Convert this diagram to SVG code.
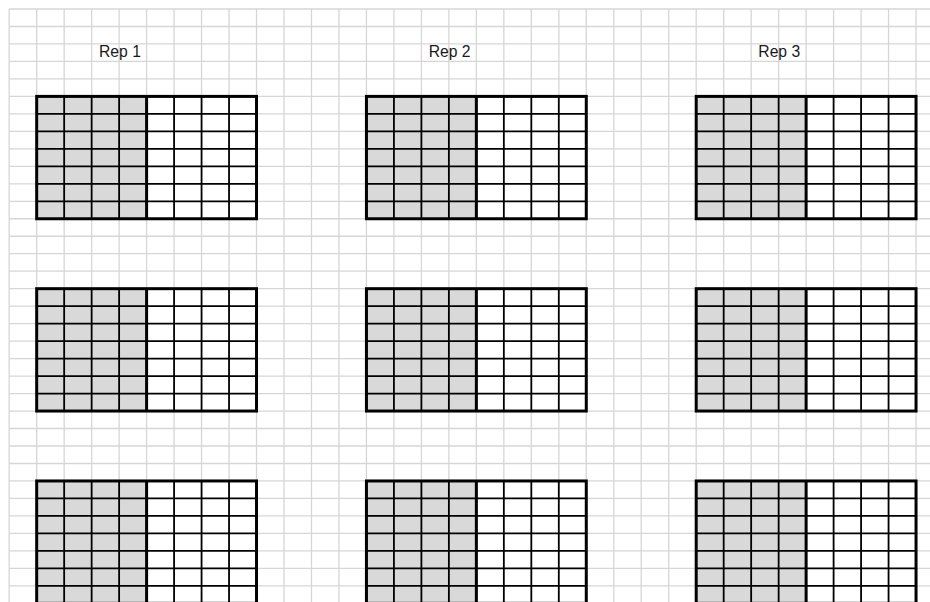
<svg xmlns="http://www.w3.org/2000/svg" xmlns:xlink="http://www.w3.org/1999/xlink" width="930" height="602" viewBox="0 0 930 602">
<style>
.grid{stroke:#d6d6d6;stroke-width:1.3;fill:none}
.inner{stroke:#000;stroke-width:1.8;fill:none}
.thick{stroke:#000;stroke-width:3;fill:none}
.lbl{font-family:"Liberation Sans",Arial,sans-serif;font-size:15.7px;fill:#1a1a1a}
</style>
<defs>
<g id="box">
<rect x="0" y="0" width="109.92" height="122.36" fill="#d9d9d9"/>
<rect x="109.92" y="0" width="109.92" height="122.36" fill="#ffffff"/>
<path class="inner" d="M27.48 0V122.36M54.96 0V122.36M82.44 0V122.36M137.4 0V122.36M164.88 0V122.36M192.36 0V122.36M0 17.48H219.84M0 34.96H219.84M0 52.44H219.84M0 69.92H219.84M0 87.4H219.84M0 104.88H219.84"/>
<rect class="thick" x="0" y="0" width="219.84" height="122.36"/>
<path class="thick" d="M109.92 0V122.36"/>
</g>
</defs>
<rect width="930" height="602" fill="#ffffff"/>
<g id="gridlines">
<path class="grid" d="M9.2 9V602M36.68 9V602M64.16 9V602M91.64 9V602M119.12 9V602M146.6 9V602M174.08 9V602M201.56 9V602M229.04 9V602M256.52 9V602M284 9V602M311.48 9V602M338.96 9V602M366.44 9V602M393.92 9V602M421.4 9V602M448.88 9V602M476.36 9V602M503.84 9V602M531.32 9V602M558.8 9V602M586.28 9V602M613.76 9V602M641.24 9V602M668.72 9V602M696.2 9V602M723.68 9V602M751.16 9V602M778.64 9V602M806.12 9V602M833.6 9V602M861.08 9V602M888.56 9V602M916.04 9V602"/>
<path class="grid" d="M9.2 9H930M9.2 26.48H930M9.2 43.96H930M9.2 61.44H930M9.2 78.92H930M9.2 96.4H930M9.2 113.88H930M9.2 131.36H930M9.2 148.84H930M9.2 166.32H930M9.2 183.8H930M9.2 201.28H930M9.2 218.76H930M9.2 236.24H930M9.2 253.72H930M9.2 271.2H930M9.2 288.68H930M9.2 306.16H930M9.2 323.64H930M9.2 341.12H930M9.2 358.6H930M9.2 376.08H930M9.2 393.56H930M9.2 411.04H930M9.2 428.52H930M9.2 446H930M9.2 463.48H930M9.2 480.96H930M9.2 498.44H930M9.2 515.92H930M9.2 533.4H930M9.2 550.88H930M9.2 568.36H930M9.2 585.84H930"/>
</g>
<g id="labels">
<text class="lbl" x="99" y="57.3">Rep 1</text>
<text class="lbl" x="428.7" y="57.3">Rep 2</text>
<text class="lbl" x="758.3" y="57.3">Rep 3</text>
</g>
<g id="rep1-row1"><use xlink:href="#box" x="36.68" y="96.4"/></g>
<g id="rep2-row1"><use xlink:href="#box" x="366.44" y="96.4"/></g>
<g id="rep3-row1"><use xlink:href="#box" x="696.2" y="96.4"/></g>
<g id="rep1-row2"><use xlink:href="#box" x="36.68" y="288.68"/></g>
<g id="rep2-row2"><use xlink:href="#box" x="366.44" y="288.68"/></g>
<g id="rep3-row2"><use xlink:href="#box" x="696.2" y="288.68"/></g>
<g id="rep1-row3"><use xlink:href="#box" x="36.68" y="480.96"/></g>
<g id="rep2-row3"><use xlink:href="#box" x="366.44" y="480.96"/></g>
<g id="rep3-row3"><use xlink:href="#box" x="696.2" y="480.96"/></g>
</svg>
